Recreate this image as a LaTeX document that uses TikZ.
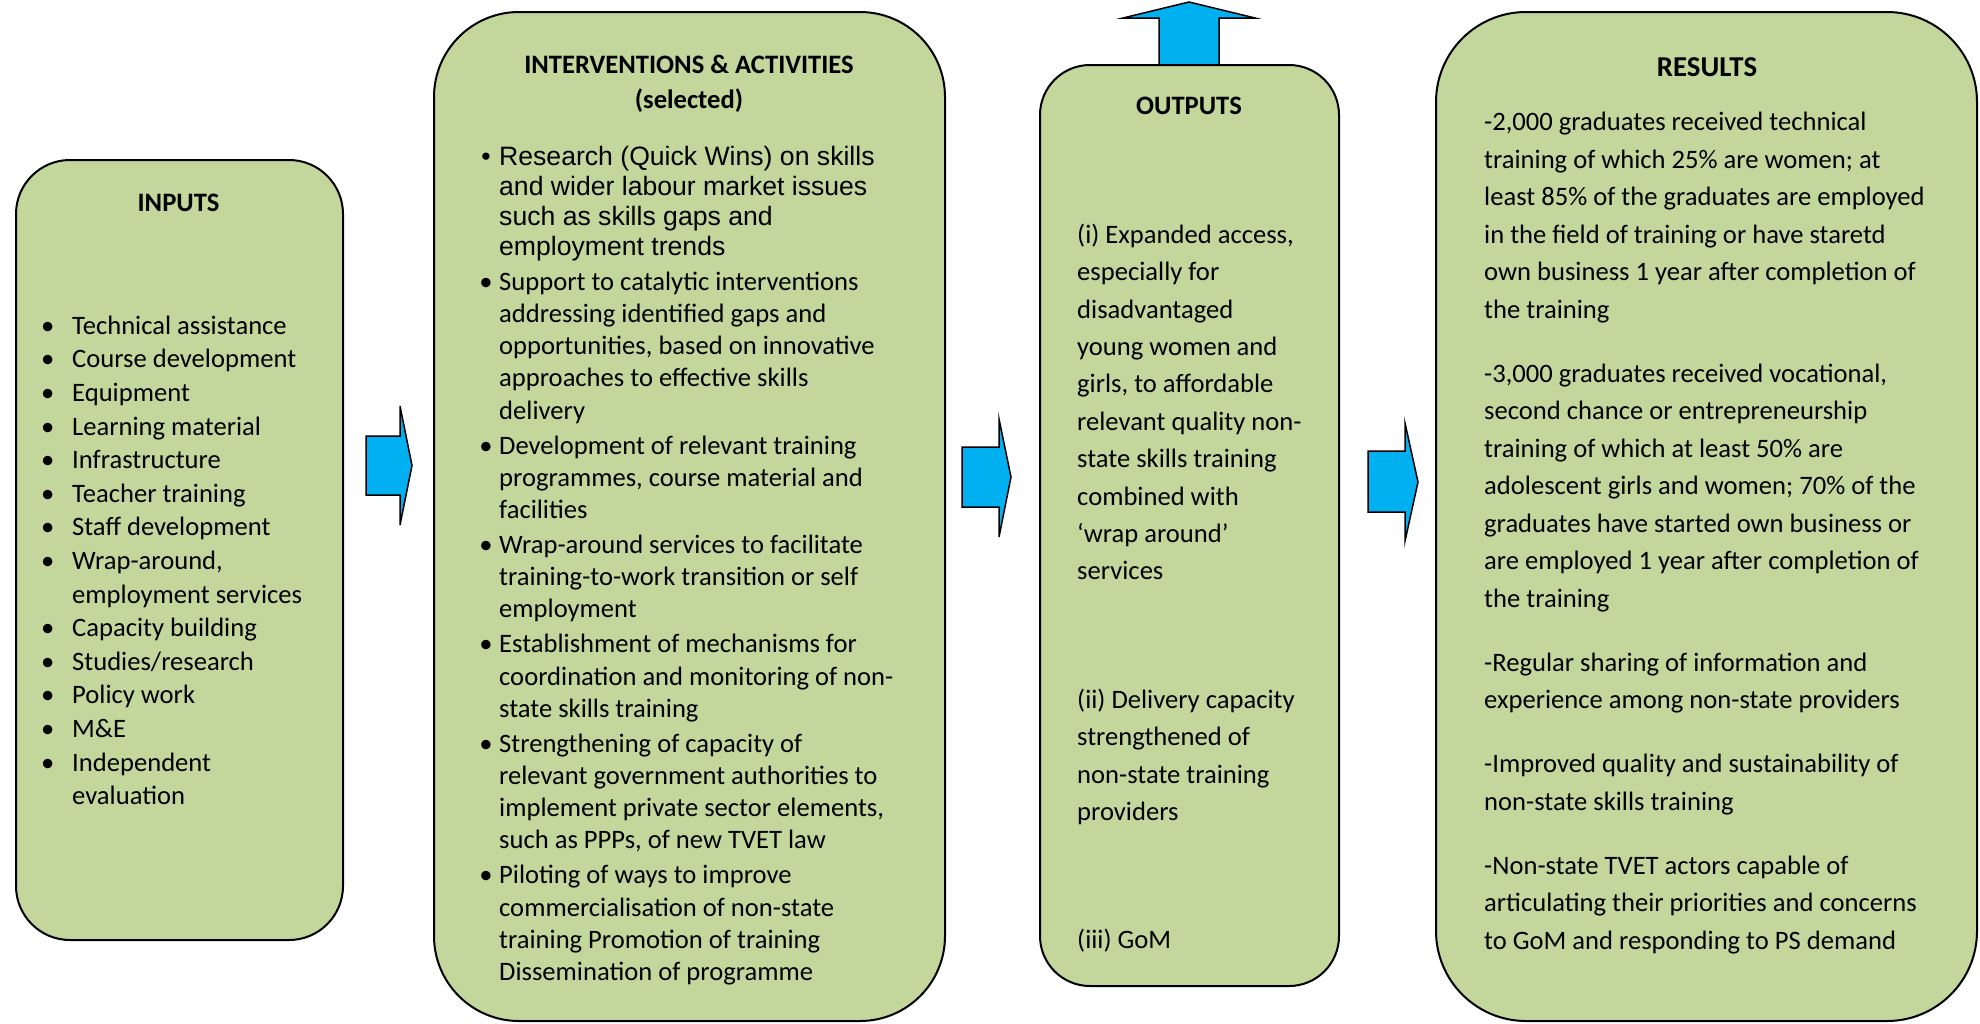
\documentclass[tikz,border=0pt]{standalone}
\usepackage{fontspec}
\setmainfont{Carlito}
\newfontfamily\arialfont{Liberation Sans}
\definecolor{boxgreen}{HTML}{C3D69B}
\definecolor{arrowblue}{HTML}{00B0F0}
\newcommand\tstrut{\rule{0pt}{25pt}}
\newcommand\ibul{\llap{\makebox[0pt][c]{\textbullet}\hspace{24.5pt}}}
\newcommand\abul{\llap{\makebox[0pt][c]{\textbullet}\hspace{13.3pt}}}
\begin{document}
\begin{tikzpicture}[x=1pt,y=-1pt,
  box/.style={draw=black, line width=2pt, fill=boxgreen, inner sep=0pt, outer sep=0pt},
  blockarrow/.style={draw=black, line width=1.5pt, fill=arrowblue, line join=miter},
  body/.style={anchor=north west, inner sep=0pt, align=left},
  titletext/.style={anchor=base, inner sep=0pt, font=\bfseries\fontsize{26.6}{32}\selectfont}]
\fill[white] (0,0) rectangle (1980,1023);
\useasboundingbox (0,0) rectangle (1980,1023);

% up arrow behind outputs box
\filldraw[blockarrow] (1159,65) -- (1159,18) -- (1123,18) -- (1189,2) -- (1255,18) -- (1219,18) -- (1219,65) -- cycle;

% boxes
\node[box, rounded corners=54pt, minimum width=327pt, minimum height=780pt] (inputs) at (179.5,550) {};
\node[box, rounded corners=85pt, minimum width=511pt, minimum height=1009pt] (interv) at (689.5,516.5) {};
\node[box, rounded corners=50pt, minimum width=299pt, minimum height=921pt] (outputs) at (1189.5,525.5) {};
\node[box, rounded corners=90pt, minimum width=541pt, minimum height=1009pt] (results) at (1706.5,516.5) {};

% block arrows
\filldraw[blockarrow] (366,436) -- (400,436) -- (400,406) -- (412,465.5) -- (400,525) -- (400,495) -- (366,495) -- cycle;
\filldraw[blockarrow] (962,447) -- (999,447) -- (999,419) -- (1011,477) -- (999,537) -- (999,507) -- (962,507) -- cycle;
\filldraw[blockarrow] (1368,451) -- (1405,451) -- (1405,423) -- (1418,482) -- (1405,541) -- (1405,512) -- (1368,512) -- cycle;

% titles
\node[titletext] (tin) at (178.5,211.7) {INPUTS};
\node[anchor=north, inner sep=0pt, align=center, font=\bfseries\fontsize{26.6}{35}\selectfont] (tiv) at (689,48.3)
  {\tstrut INTERVENTIONS \& ACTIVITIES\\(selected)};
\node[titletext] (tout) at (1189,114) {OUTPUTS};
\node[titletext, font=\bfseries\fontsize{28.8}{34}\selectfont] (tres) at (1707,76) {RESULTS};

% inputs list
\node[body, font=\fontsize{26.6}{33.6}\selectfont] (inlist) at (72,309) {\tstrut\ibul Technical assistance\\
\ibul Course development\\
\ibul Equipment\\
\ibul Learning material\\
\ibul Infrastructure\\
\ibul Teacher training\\
\ibul Staff development\\
\ibul Wrap-around,\\
employment services\\
\ibul Capacity building\\
\ibul Studies/research\\
\ibul Policy work\\
\ibul M\&E\\
\ibul Independent\\
evaluation};

% interventions list
\node[body, font=\arialfont\fontsize{26.6}{30}\selectfont] (ivres) at (499,140) {\tstrut\abul Research (Quick Wins) on skills\\
and wider labour market issues\\
such as skills gaps and\\
employment trends};
\node[body, font=\fontsize{26.6}{32.2}\selectfont] (ivlist) at (499,265) {\tstrut\abul Support to catalytic interventions\\
addressing identified gaps and\\
opportunities, based on innovative\\
approaches to effective skills\\
delivery\\[2.8pt]
\abul Development of relevant training\\
programmes, course material and\\
facilities\\[2.8pt]
\abul Wrap-around services to facilitate\\
training-to-work transition or self\\
employment\\[2.8pt]
\abul Establishment of mechanisms for\\
coordination and monitoring of non-\\
state skills training\\[2.8pt]
\abul Strengthening of capacity of\\
relevant government authorities to\\
implement private sector elements,\\
such as PPPs, of new TVET law\\[2.8pt]
\abul Piloting of ways to improve\\
commercialisation of non-state\\
training Promotion of training\\
Dissemination of programme};

% outputs text
\node[body, font=\fontsize{26.6}{37.4}\selectfont] (out1) at (1077,218) {\tstrut(i) Expanded access,\\
especially for\\
disadvantaged\\
young women and\\
girls, to affordable\\
relevant quality non-\\
state skills training\\
combined with\\
‘wrap around’\\
services};
\node[body, font=\fontsize{26.6}{37.4}\selectfont] (out2) at (1077,683) {\tstrut(ii) Delivery capacity\\
strengthened of\\
non-state training\\
providers};
\node[body, font=\fontsize{26.6}{37.4}\selectfont] (out3) at (1077,923) {\tstrut(iii) GoM};

% results text
\node[body, font=\fontsize{26.6}{37.5}\selectfont] (reslist) at (1484,105.5) {\tstrut-2,000 graduates received technical\\
training of which 25\% are women; at\\
least 85\% of the graduates are employed\\
in the field of training or have staretd\\
own business 1 year after completion of\\
the training\\[26.5pt]
-3,000 graduates received vocational,\\
second chance or entrepreneurship\\
training of which at least 50\% are\\
adolescent girls and women; 70\% of the\\
graduates have started own business or\\
are employed 1 year after completion of\\
the training\\[26.5pt]
-Regular sharing of information and\\
experience among non-state providers\\[26.5pt]
-Improved quality and sustainability of\\
non-state skills training\\[26.5pt]
-Non-state TVET actors capable of\\
articulating their priorities and concerns\\
to GoM and responding to PS demand};
\end{tikzpicture}
\end{document}
